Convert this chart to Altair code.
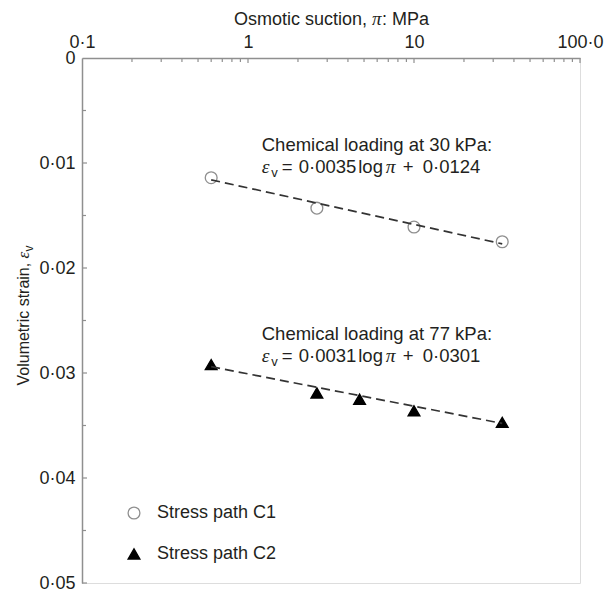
import altair as alt
import pandas as pd

# ---------------- data ----------------
series_names = ["Stress path C1", "Stress path C2"]
c1_x = [0.6, 2.6, 10.0, 34.0]
c1_y = [0.0114, 0.0143, 0.0161, 0.0175]
c2_x = [0.6, 2.6, 4.7, 10.0, 34.0]
c2_y = [0.0292, 0.0319, 0.0325, 0.0336, 0.0347]

fit_x = [0.6, 34.0]
fit_c1_y = [0.0116, 0.0177]
fit_c2_y = [0.0294, 0.0348]

x_major = [0.1, 1, 10, 100]
x_minor = [0.2, 0.3, 0.4, 0.5, 0.6, 0.7, 0.8, 0.9,
           2, 3, 4, 5, 6, 7, 8, 9,
           20, 30, 40, 50, 60, 70, 80, 90]
y_major = [0.0, 0.01, 0.02, 0.03, 0.04, 0.05]
y_minor = [0.005, 0.015, 0.025, 0.035, 0.045]

ann_x = [1.21, 1.21]
ann_y1 = [0.00886, 0.02686]
ann_y2 = [0.01095, 0.02895]
ann_head = ["Chemical loading at 30 kPa:", "Chemical loading at 77 kPa:"]
ann_coef = ["0·0035", "0·0031"]
ann_const = ["0·0124", "0·0301"]

x_title_parts = ["Osmotic suction,", "π", ": MPa"]
y_title_parts = ["Volumetric strain,", "ε", "v"]

# ---------------- styles ----------------
FONT = "Liberation Sans"
MATH = "Liberation Serif"
TXT = "#231f20"
GREY = "#8f8f8f"
W, H = 498, 525

xs = alt.Scale(type="log", domain=[0.1, 100], nice=False)
ys = alt.Scale(domain=[0, 0.05], reverse=True, nice=False, zero=False)

xaxis = alt.Axis(orient="top", values=x_major, title=None, ticks=False, tickSize=0,
                 grid=False, domainColor=GREY, domainWidth=1.5,
                 labelFont=FONT, labelFontSize=18, labelColor=TXT, labelPadding=7,
                 labelFlush=False, labelOverlap=False,
                 labelExpr="datum.value < 0.5 ? '0·1' : (datum.value > 50 ? '100·0' : format(datum.value, 'd'))")
yaxis = alt.Axis(orient="left", values=y_major, title=None, ticks=False, tickSize=0,
                 grid=False, domainColor=GREY, domainWidth=1.5,
                 labelFont=FONT, labelFontSize=18, labelColor=TXT, labelPadding=7,
                 labelFlush=False, labelOverlap=False,
                 labelExpr="datum.value == 0 ? '0' : replace(format(datum.value, '.2f'), '.', '·')")

X = alt.X("x:Q", scale=xs, axis=xaxis)
Y = alt.Y("y:Q", scale=ys, axis=yaxis)

# ---------------- points ----------------
pts = pd.DataFrame({
    "x": c1_x + c2_x,
    "y": c1_y + c2_y,
    "series": [series_names[0]] * len(c1_x) + [series_names[1]] * len(c2_x),
})
leg = alt.Legend(orient="none", legendX=43, legendY=446, title=None,
                 labelFont=FONT, labelFontSize=18, labelColor=TXT,
                 symbolSize=140, symbolStrokeWidth=1.3, labelOffset=14,
                 rowPadding=23, padding=0)
points = alt.Chart(pts).mark_point(filled=True, size=140, strokeWidth=1.3, opacity=1).encode(
    x=X, y=Y,
    shape=alt.Shape("series:N", scale=alt.Scale(domain=series_names, range=["circle", "triangle-up"]), legend=leg),
    fill=alt.Fill("series:N", scale=alt.Scale(domain=series_names, range=["transparent", "#000000"]), legend=leg),
    stroke=alt.Stroke("series:N", scale=alt.Scale(domain=series_names, range=[GREY, "#000000"]), legend=leg),
)

# ---------------- fitted dashed lines ----------------
fits = pd.DataFrame({
    "x": fit_x + fit_x,
    "y": fit_c1_y + fit_c2_y,
    "g": ["C1"] * 2 + ["C2"] * 2,
})
lines = alt.Chart(fits).mark_line(strokeDash=[9, 5], color="#333333", strokeWidth=1.7).encode(
    x=X, y=Y, detail="g:N")

# ---------------- inward ticks ----------------
xt_minor = alt.Chart(pd.DataFrame({"x": x_minor})).mark_rule(color=GREY, strokeWidth=1.2).encode(
    x=X, y=alt.value(0), y2=alt.value(4))
xt_major = alt.Chart(pd.DataFrame({"x": x_major[1:]})).mark_rule(color=GREY, strokeWidth=1.2).encode(
    x=X, y=alt.value(0), y2=alt.value(5))
yt_minor = alt.Chart(pd.DataFrame({"y": y_minor})).mark_rule(color=GREY, strokeWidth=1.2).encode(
    y=Y, x=alt.value(0), x2=alt.value(4))
yt_major = alt.Chart(pd.DataFrame({"y": y_major[1:]})).mark_rule(color=GREY, strokeWidth=1.2).encode(
    y=Y, x=alt.value(0), x2=alt.value(5))

# ---------------- annotations ----------------
ann = pd.DataFrame({"x": ann_x, "y1": ann_y1, "y2": ann_y2,
                    "head": ann_head, "coef": ann_coef, "const": ann_const})
base_ann = alt.Chart(ann)
ann_layers = [
    base_ann.mark_text(align="left", baseline="alphabetic", font=FONT, fontSize=18.5, color=TXT).encode(
        x=X, y=alt.Y("y1:Q", scale=ys, axis=yaxis), text="head:N")
]
pieces = [  # (text, dx, dy, font, size, style)
    ("ε", 0, 0, MATH, 19.5, "italic"),
    ("v", 9.5, 4.5, FONT, 13, "normal"),
    ("=", 20, 0, FONT, 18.5, "normal"),
    (None, 37, 0, FONT, 18.5, "coef"),
    ("log", 96.5, 0, FONT, 18.5, "normal"),
    ("π", 124, 0, MATH, 19.5, "italic"),
    ("+", 141, 0, FONT, 18.5, "normal"),
    (None, 161, 0, FONT, 18.5, "const"),
]
for txt, dx, dy, font, size, style in pieces:
    if style in ("coef", "const"):
        t = alt.Text(f"{style}:N")
        st = "normal"
    else:
        t = alt.value(txt)
        st = style
    ann_layers.append(
        base_ann.mark_text(align="left", baseline="alphabetic", font=font, fontSize=size,
                           fontStyle=st, color=TXT, dx=dx, dy=dy).encode(
            x=X, y=alt.Y("y2:Q", scale=ys, axis=yaxis), text=t)
    )

# ---------------- axis titles (built from text pieces) ----------------
tdf = pd.DataFrame({"t": [0]})
xt_parts = [
    (x_title_parts[0], 152, FONT, 18, "normal"),
    (x_title_parts[1], 290, MATH, 19, "italic"),
    (x_title_parts[2], 300, FONT, 18, "normal"),
]
title_layers = []
for txt, px, font, size, st in xt_parts:
    title_layers.append(
        alt.Chart(tdf).mark_text(align="left", baseline="alphabetic", font=font, fontSize=size,
                                 fontStyle=st, color=TXT).encode(
            x=alt.value(px), y=alt.value(-33), text=alt.value(txt))
    )
yt_parts = [
    (y_title_parts[0], 0, 0, FONT, 16, "normal"),
    (y_title_parts[1], 127, 0, MATH, 17, "italic"),
    (y_title_parts[2], 134, 4, FONT, 12, "normal"),
]
for txt, dx, dy, font, size, st in yt_parts:
    title_layers.append(
        alt.Chart(tdf).mark_text(align="left", baseline="alphabetic", font=font, fontSize=size,
                                 fontStyle=st, color=TXT, angle=270, dx=dx, dy=dy).encode(
            x=alt.value(-53), y=alt.value(H / 2 + 65), text=alt.value(txt))
    )

chart = alt.layer(
    xt_minor, xt_major, yt_minor, yt_major, points, lines, *ann_layers, *title_layers
).properties(
    width=W, height=H,
    padding={"left": 82, "top": 58, "right": 35, "bottom": 13},
    autosize=alt.AutoSizeParams(type="none"),
).configure_view(stroke=None).configure(background="white")

chart.save("out.html", embed_options={"renderer": "svg", "actions": False})
